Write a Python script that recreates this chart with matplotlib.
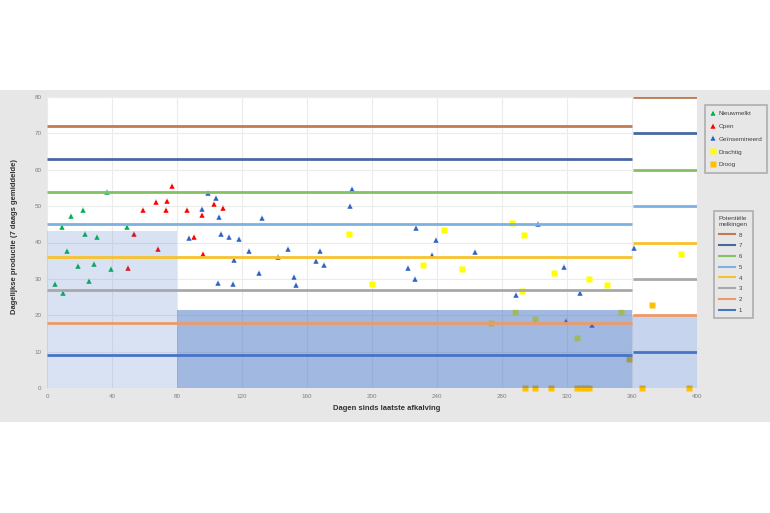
import numpy as np
import matplotlib
matplotlib.use("Agg")
import matplotlib.pyplot as plt
from matplotlib.patches import Rectangle
from matplotlib.lines import Line2D

plt.rcParams['font.family'] = ['Liberation Sans', 'DejaVu Sans']

# --- data ---
nieuw_x = [37.1, 22.0, 15.0, 9.2, 49.0, 23.2, 31.0, 12.1, 19.1, 29.1, 39.2, 5.1, 26.0, 10.0]
nieuw_y = [53.8, 48.9, 47.2, 44.3, 44.3, 42.2, 41.6, 37.6, 33.5, 34.2, 32.8, 28.7, 29.5, 26.1]

open_x = [77.1, 67.3, 74.0, 59.1, 73.0, 86.0, 95.2, 103.0, 108.1, 53.3, 90.3, 68.1, 96.2, 50.0]
open_y = [55.4, 51.2, 51.4, 48.9, 48.9, 48.9, 47.6, 50.5, 49.5, 42.3, 41.5, 38.1, 36.9, 32.9]

ins_x = [99.3, 104.0, 95.2, 106.1, 87.2, 107.1, 112.2, 105.0,
         187.5, 186.3, 132.1, 118.3, 124.1, 115.1, 142.3, 148.1, 168.0, 165.3,
         170.3, 130.3, 152.2, 153.2, 114.3, 222.0,
         227.1, 239.2, 237.1, 263.4, 226.3, 302.4, 288.4,
         318.2, 328.2, 319.4, 335.2, 361.4]
ins_y = [53.6, 52.2, 49.3, 47.1, 41.2, 42.2, 41.5, 28.9,
         54.7, 50.0, 46.8, 41.0, 37.8, 35.3, 36.1, 38.3, 37.8, 34.9,
         33.8, 31.7, 30.4, 28.4, 28.5, 33.0,
         43.9, 40.6, 36.6, 37.4, 30.1, 45.2, 25.7,
         33.3, 26.1, 18.5, 17.3, 38.5]

dracht_x = [186.1, 200.2, 244.1, 231.2, 255.4, 286.2, 293.3, 292.5, 312.2,
            333.3, 344.4, 390.4, 273.2, 288.2, 300.3, 326.3, 353.2]
dracht_y = [42.3, 28.6, 43.3, 33.7, 32.6, 45.4, 42.0, 26.6, 31.5,
            30.0, 28.4, 36.9, 18.0, 20.8, 18.9, 13.8, 21.0]

droog_x = [294.4, 300.3, 310.2, 326.0, 328.5, 331.0, 333.5, 366.3, 395.3, 372.3, 358.2]
droog_y = [0, 0, 0, 0, 0, 0, 0, 0, 0, 22.9, 7.9]

# potential milkings: level k -> 9k in lactation, 10k in dry period
levels = [8, 7, 6, 5, 4, 3, 2, 1]
main_vals = [72, 63, 54, 45, 36, 27, 18, 9]
dry_vals = [80, 70, 60, 50, 40, 30, 20, 10]
level_colors = ['#c27a52', '#4a68a0', '#84c064', '#7db1e2',
                '#f8c12e', '#a8a8a8', '#ee9a68', '#4674c6']

# shaded zones: (start, end, height)
zones = [(0, 80, 43.2), (80, 360, 21.5), (360, 400, 20)]
zone_alpha = [0.2, 0.5, 0.3]

# --- figure ---
fig = plt.figure(figsize=(7.7, 5.13), dpi=100)
fig.patch.set_facecolor('white')
fig.patches.append(Rectangle((0, 1 - 422 / 513), 1, (422 - 90) / 513,
                             transform=fig.transFigure, facecolor='#e7e7e7',
                             edgecolor='none', zorder=-10))

ax = fig.add_axes([47 / 770, 1 - 388 / 513, 650 / 770, 291 / 513])
ax.set_facecolor('white')
ax.set_xlim(0, 400)
ax.set_ylim(0, 80)
ax.set_xticks(np.arange(0, 401, 40))
ax.set_yticks(np.arange(0, 81, 10))
ax.grid(True, color='#ececec', linewidth=0.8)
ax.set_axisbelow(True)
for s in ax.spines.values():
    s.set_visible(False)
ax.tick_params(length=0, labelsize=4.5, labelcolor='#7f7f7f', pad=4)

# points (under the shaded zones)
ax.plot(nieuw_x, nieuw_y, '^', color='#00b050', ms=4.8, mec='white', mew=0.3,
        zorder=2, label='Nieuwmelkt')
ax.plot(open_x, open_y, '^', color='#ff0000', ms=4.8, mec='white', mew=0.3,
        zorder=2, label='Open')
ax.plot(ins_x, ins_y, '^', color='#2e62c4', ms=4.8, mec='white', mew=0.3,
        zorder=2, label='Geïnsemineerd')
ax.plot(dracht_x, dracht_y, 's', color='#ffff00', ms=5.0, mec='none',
        zorder=2, label='Drachtig')
ax.plot(droog_x, droog_y, 's', color='#ffc000', ms=5.0, mec='none',
        zorder=2, label='Droog', clip_on=False)

for (x0, x1, h), a in zip(zones, zone_alpha):
    ax.add_patch(Rectangle((x0, 0), x1 - x0, h, facecolor='#4472c4',
                           alpha=a, edgecolor='none', zorder=3))

for lv, m, d, c in zip(levels, main_vals, dry_vals, level_colors):
    ax.plot([0, 360], [m, m], color=c, lw=2, zorder=4, solid_capstyle='butt')
    ax.plot([360.6, 400], [d, d], color=c, lw=2, zorder=4, solid_capstyle='butt')

fig.text(387 / 770, 1 - 408 / 513, 'Dagen sinds laatste afkalving',
         ha='center', va='center', fontsize=5.5, fontweight='bold', color='#333333')
fig.text(15 / 770, 1 - 236 / 513, 'Dagelijkse productie (7 daags gemiddelde)',
         ha='center', va='center', rotation=90, fontsize=5.5, fontweight='bold',
         color='#333333')

# legends
h1, l1 = ax.get_legend_handles_labels()
leg1 = fig.legend(h1, l1, loc='upper left', bbox_to_anchor=(702 / 770, 1 - 102 / 513),
                  fontsize=4.6, frameon=True, fancybox=False, handlelength=0.8,
                  handletextpad=0.4, labelspacing=1.15, borderpad=0.85,
                  labelcolor='#404040')
leg1.get_frame().set_facecolor('#e7e7e7')
leg1.get_frame().set_edgecolor('#a0a0a0')
leg1.get_frame().set_linewidth(1.2)

h2 = [Line2D([0], [0], color=c, lw=1.5) for c in level_colors]
leg2 = fig.legend(h2, [str(v) for v in levels], loc='upper left',
                  bbox_to_anchor=(711 / 770, 1 - 208 / 513),
                  title='Potentiële\nmelkingen', title_fontsize=4.6, fontsize=4.4,
                  frameon=True, fancybox=False, handlelength=2.6,
                  handletextpad=0.6, labelspacing=0.9, borderpad=0.8,
                  labelcolor='#404040', alignment='left')
leg2.get_frame().set_facecolor('#e7e7e7')
leg2.get_frame().set_edgecolor('#a0a0a0')
leg2.get_frame().set_linewidth(1.2)
leg2.get_title().set_color('#404040')

fig.savefig('out.png', dpi=100, facecolor=fig.get_facecolor())
